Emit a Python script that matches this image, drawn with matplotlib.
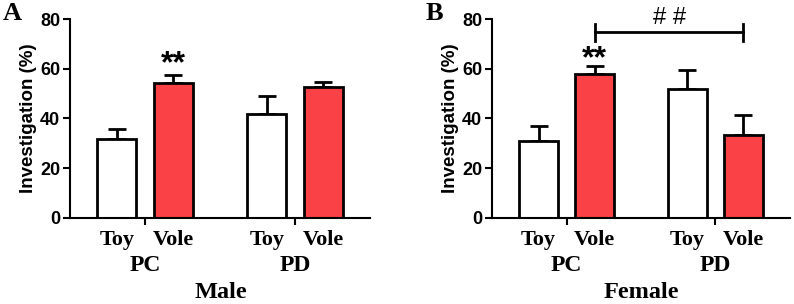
import numpy as np
import matplotlib
matplotlib.use('Agg')
import matplotlib.pyplot as plt
import matplotlib.transforms as mtransforms

# data (mean, upper SEM)
groups = ['PC', 'PD']
stimuli = ['Toy', 'Vole']
male_mean = [31.7, 54.2, 41.8, 52.8]
male_err = [3.9, 3.1, 7.3, 2.0]
female_mean = [30.9, 57.8, 51.7, 33.3]
female_err = [6.2, 3.4, 7.9, 8.1]
yticks = [0, 20, 40, 60, 80]

serif = 'Liberation Serif'
sans = 'Liberation Sans'
red = '#fa4145'

fig = plt.figure(figsize=(7.94, 3.04), dpi=100)
axA = fig.add_axes([0.0882, 0.283, 0.378, 0.6545])
axB = fig.add_axes([0.6196, 0.283, 0.3754, 0.6545])

pos = np.array([0, 1, 2.65, 3.65])
width = 0.69


def draw(ax, mean, err, sex, letter):
    colors = ['white', red, 'white', red]
    ax.bar(pos, mean, width=width, color=colors, edgecolor='black', linewidth=2, zorder=2)
    ax.errorbar(pos, mean, yerr=[np.zeros(4), err], fmt='none', ecolor='black',
                elinewidth=2, capsize=6.5, capthick=2, zorder=1)
    ax.set_xlim(-0.83, 4.48)
    ax.set_ylim(0, 80)
    ax.set_yticks(yticks)
    ax.set_yticklabels([str(t) for t in yticks], fontsize=13, fontweight='bold', family=sans)
    ax.set_xticks([0.5, 3.15])
    ax.set_xticklabels([])
    ax.set_xticks(pos, minor=True)
    ax.set_xticklabels(stimuli * 2, minor=True, fontsize=16, fontweight='bold', family=serif)
    ax.tick_params(axis='x', which='minor', length=0, pad=9)
    ax.tick_params(axis='both', which='major', width=1.5, length=5, pad=2)
    for s in ['top', 'right']:
        ax.spines[s].set_visible(False)
    for s in ['left', 'bottom']:
        ax.spines[s].set_linewidth(1.5)
    ax.set_ylabel('Investigation (%)', fontsize=13.5, fontweight='bold', family=sans, labelpad=2)
    trans = mtransforms.blended_transform_factory(ax.transData, ax.transAxes)
    for g, c in zip(groups, [0.5, 3.15]):
        ax.text(c, -0.24, g, transform=trans, ha='center', va='center',
                fontsize=17, fontweight='bold', family=serif)
    ax.text(1.83, -0.375, sex, transform=trans, ha='center', va='center',
            fontsize=17.5, fontweight='bold', family=serif)
    ax.text(-0.193, 1.03, letter, transform=ax.transAxes, ha='center', va='center',
            fontsize=19, fontweight='bold', family=serif)


draw(axA, male_mean, male_err, 'Male', 'A')
draw(axB, female_mean, female_err, 'Female', 'B')

# significance marks
axA.text(pos[1], 63.2, '**', ha='center', va='center_baseline',
         fontsize=23, fontweight='bold', family=sans)
axB.text(pos[1], 65.2, '**', ha='center', va='center_baseline',
         fontsize=23, fontweight='bold', family=sans)
axB.plot([pos[1], pos[3]], [74.6, 74.6], color='black', lw=2, clip_on=False)
axB.plot([pos[1], pos[1]], [71.3, 78], color='black', lw=2, clip_on=False)
axB.plot([pos[3], pos[3]], [71.3, 78], color='black', lw=2, clip_on=False)
axB.text((pos[1] + pos[3]) / 2, 80.3, '# #', ha='center', va='center',
         fontsize=17, family=sans, clip_on=False)

fig.savefig('out.png', dpi=100)
